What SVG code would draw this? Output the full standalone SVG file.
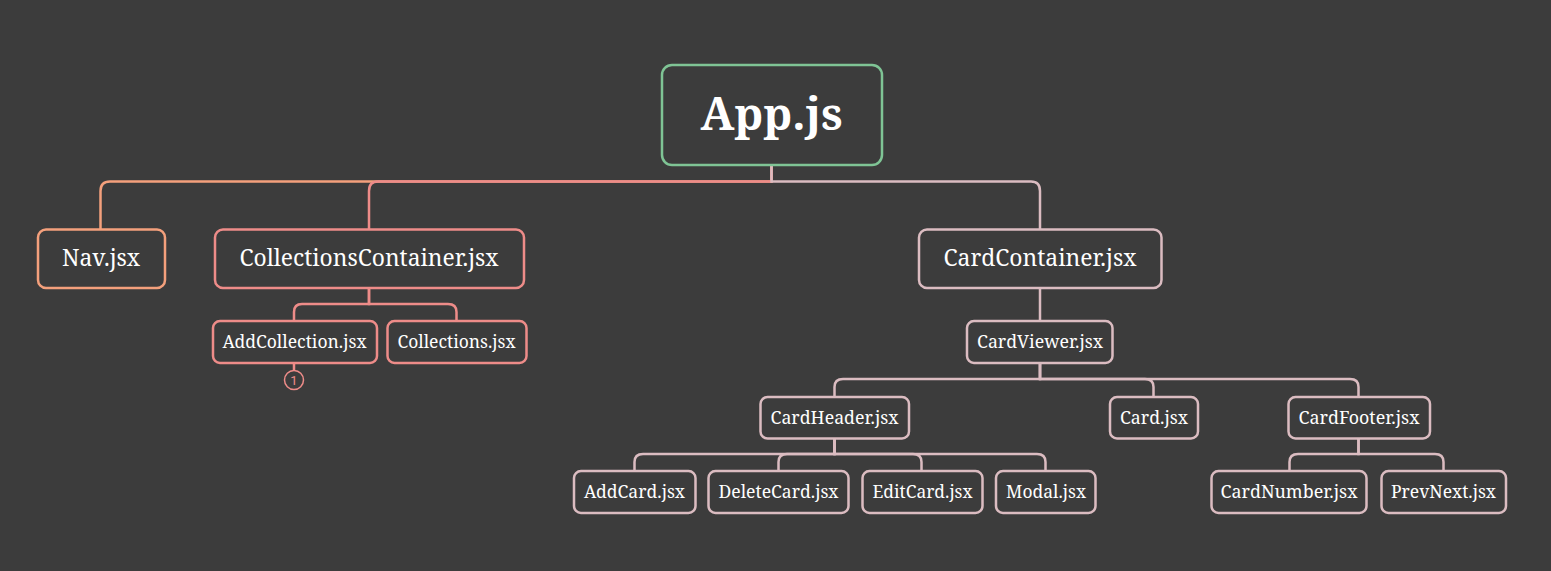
<svg xmlns="http://www.w3.org/2000/svg" width="1551" height="571" viewBox="0 0 1551 571">
<style>
.bg{fill:#3c3c3c}
.box{fill:#3c3c3c;stroke-width:2.5}
.ln{fill:none;stroke-width:2.5}
.t{font-family:"Noto Serif","DejaVu Serif","Liberation Serif",serif;fill:#ffffff;text-anchor:middle}
.l1{font-size:24px}
.l2{font-size:18px}
.root{stroke:#7fc495}
.nav{stroke:#f4a07c}
.col{stroke:#ee8c89}
.card{stroke:#dbbcc1}
</style>
<rect class="bg" x="0" y="0" width="1551" height="571"/>
<g id="connectors">
<path class="ln nav" d="M771.5 165V181.5H110Q100.5 181.5 100.5 191V229"/>
<path class="ln col" d="M771.5 165V181.5H378Q369 181.5 369 191V229"/>
<path class="ln card" d="M771.5 165V181.5H1031Q1040 181.5 1040 191V229"/>
<path class="ln col" d="M369 288V304H302Q294 304 294 312V321"/>
<path class="ln col" d="M369 288V304H448Q456.5 304 456.5 312V321"/>
<path class="ln col" d="M294 363V370"/>
<path class="ln card" d="M1040 288V321"/>
<path class="ln card" d="M1040 363V379H843Q834.5 379 834.5 387V397"/>
<path class="ln card" d="M1040 363V379H1145Q1153.5 379 1153.5 387V397"/>
<path class="ln card" d="M1040 363V379H1350Q1358.5 379 1358.5 387V397"/>
<path class="ln card" d="M834.5 438V454H643Q634.5 454 634.5 462V471"/>
<path class="ln card" d="M834.5 438V454H787Q778.5 454 778.5 462V471"/>
<path class="ln card" d="M834.5 438V454H913Q921.5 454 921.5 462V471"/>
<path class="ln card" d="M834.5 438V454H1037Q1045.5 454 1045.5 462V471"/>
<path class="ln card" d="M1358.5 438V454H1298Q1289.5 454 1289.5 462V471"/>
<path class="ln card" d="M1358.5 438V454H1435Q1443.5 454 1443.5 462V471"/>
</g>
<g id="app">
<rect class="box root" x="662" y="65" width="220" height="100" rx="10"/>
<text class="t" x="771.5" y="130" font-size="46" font-weight="bold" textLength="142" lengthAdjust="spacingAndGlyphs">App.js</text>
</g>
<g id="nav">
<rect class="box nav" x="38" y="229.5" width="127" height="58.5" rx="8"/>
<text class="t l1" x="101" y="266" textLength="78" lengthAdjust="spacingAndGlyphs">Nav.jsx</text>
</g>
<g id="collectionsContainer">
<rect class="box col" x="215" y="229.5" width="309" height="58.5" rx="8"/>
<text class="t l1" x="369" y="266" textLength="259" lengthAdjust="spacingAndGlyphs">CollectionsContainer.jsx</text>
</g>
<g id="addCollection">
<rect class="box col" x="213" y="321" width="164" height="42" rx="7"/>
<text class="t l2" x="294.5" y="348" textLength="144" lengthAdjust="spacingAndGlyphs">AddCollection.jsx</text>
</g>
<g id="collections">
<rect class="box col" x="387.5" y="321" width="139" height="42" rx="7"/>
<text class="t l2" x="456.5" y="348" textLength="118" lengthAdjust="spacingAndGlyphs">Collections.jsx</text>
</g>
<g id="badge">
<circle cx="294" cy="380" r="9.5" fill="#3c3c3c" stroke="#ee8c89" stroke-width="1.5"/>
<text x="294" y="384.5" font-family="Roboto,'Liberation Sans',sans-serif" font-size="13" fill="#ee8c89" text-anchor="middle">1</text>
</g>
<g id="cardContainer">
<rect class="box card" x="919" y="229.5" width="242.5" height="58.5" rx="8"/>
<text class="t l1" x="1040" y="266" textLength="193" lengthAdjust="spacingAndGlyphs">CardContainer.jsx</text>
</g>
<g id="cardViewer">
<rect class="box card" x="967" y="321" width="145.5" height="42" rx="7"/>
<text class="t l2" x="1040" y="348" textLength="126" lengthAdjust="spacingAndGlyphs">CardViewer.jsx</text>
</g>
<g id="cardHeader">
<rect class="box card" x="760.5" y="397" width="148.5" height="41.5" rx="7"/>
<text class="t l2" x="834.5" y="423.5" textLength="128" lengthAdjust="spacingAndGlyphs">CardHeader.jsx</text>
</g>
<g id="card">
<rect class="box card" x="1110" y="397" width="88" height="41.5" rx="7"/>
<text class="t l2" x="1154" y="423.5" textLength="68" lengthAdjust="spacingAndGlyphs">Card.jsx</text>
</g>
<g id="cardFooter">
<rect class="box card" x="1288.5" y="397" width="141.5" height="41.5" rx="7"/>
<text class="t l2" x="1359" y="423.5" textLength="121" lengthAdjust="spacingAndGlyphs">CardFooter.jsx</text>
</g>
<g id="addCard">
<rect class="box card" x="574" y="471" width="121.5" height="42" rx="7"/>
<text class="t l2" x="634.5" y="498" textLength="101" lengthAdjust="spacingAndGlyphs">AddCard.jsx</text>
</g>
<g id="deleteCard">
<rect class="box card" x="708.5" y="471" width="140" height="42" rx="7"/>
<text class="t l2" x="778.5" y="498" textLength="120" lengthAdjust="spacingAndGlyphs">DeleteCard.jsx</text>
</g>
<g id="editCard">
<rect class="box card" x="862.5" y="471" width="120" height="42" rx="7"/>
<text class="t l2" x="922.5" y="498" textLength="100" lengthAdjust="spacingAndGlyphs">EditCard.jsx</text>
</g>
<g id="modal">
<rect class="box card" x="996" y="471" width="99.5" height="42" rx="7"/>
<text class="t l2" x="1046" y="498" textLength="80" lengthAdjust="spacingAndGlyphs">Modal.jsx</text>
</g>
<g id="cardNumber">
<rect class="box card" x="1211.5" y="471" width="155" height="42" rx="7"/>
<text class="t l2" x="1289" y="498" textLength="137" lengthAdjust="spacingAndGlyphs">CardNumber.jsx</text>
</g>
<g id="prevNext">
<rect class="box card" x="1381.5" y="471" width="124.5" height="42" rx="7"/>
<text class="t l2" x="1443.5" y="498" textLength="105" lengthAdjust="spacingAndGlyphs">PrevNext.jsx</text>
</g>
</svg>
